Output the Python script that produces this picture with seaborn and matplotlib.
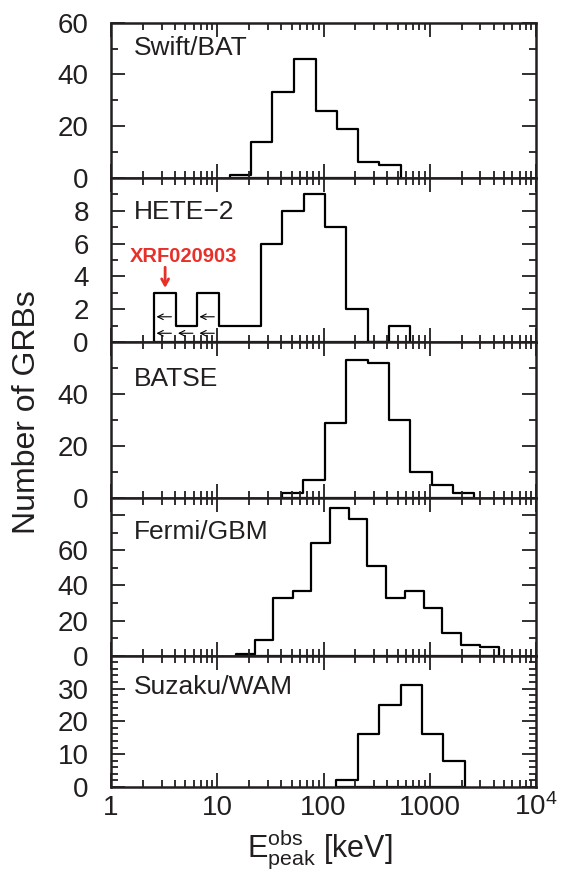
import numpy as np
import pandas as pd
import matplotlib
matplotlib.use("Agg")
import matplotlib.pyplot as plt
import seaborn as sns
from matplotlib.ticker import FixedLocator, LogLocator, NullFormatter, MultipleLocator

# ---------------- data ----------------
panel_names = ["Swift/BAT", "HETE\u22122", "BATSE", "Fermi/GBM", "Suzaku/WAM"]

swift_edges = [13.2, 20.6, 33.1, 53.3, 84.7, 134.5, 211.8, 334, 533]
swift_counts = [1, 14, 33, 46, 26, 19, 6, 5]

hete_edges = [2.56, 4.08, 6.49, 10.4, 16.4, 25.9, 41.1, 65.3, 104, 164, 261, 415, 658]
hete_counts = [3, 1, 3, 1, 1, 6, 8, 9, 7, 2, 0, 1]

batse_edges = [40.3, 64.4, 103, 164, 263, 415, 658, 1045, 1656, 2630]
batse_counts = [2, 7, 29, 53, 52, 30, 10, 5, 2]

fermi_edges = [15.0, 22.6, 33.7, 51.1, 76.0, 115, 172, 259, 391, 586, 879,
               1315, 1972, 2951, 4457]
fermi_counts = [1, 9, 33, 37, 64, 84, 78, 51, 33, 37, 27, 13, 6, 5]

suzaku_edges = [132, 210, 334, 533, 847, 1346, 2148]
suzaku_counts = [2, 16, 25, 31, 16, 8]

y_max = [60, 10, 60, 90, 40]
y_major = [[0, 20, 40, 60], [0, 2, 4, 6, 8], [0, 20, 40], [0, 20, 40, 60, 80], [0, 10, 20, 30]]
y_major_labels = [["0", "20", "40", "60"], ["0", "2", "4", "6", "8"], ["0", "20", "40"],
                  ["0", "20", "40", "60", ""], ["0", "10", "20", "30"]]
y_minor_step = [10, 1, 10, 10, 2]

x_ticks = [1, 10, 100, 1000, 10000]
x_ticklabels = ["1", "10", "100", "1000", r"$\mathregular{10^4}$"]

xrf_label = "XRF020903"
xrf_bin = 0
# (HETE-2 bin index, count level) of the upper-limit arrows
upper_limit_arrows = [(0, 1.55), (2, 1.55), (0, 0.55), (1, 0.55), (2, 0.55)]

# ---------------- style ----------------
plt.rcParams["font.family"] = ["Liberation Sans", "DejaVu Sans"]
plt.rcParams["mathtext.fontset"] = "custom"
plt.rcParams["mathtext.rm"] = "Liberation Sans"
plt.rcParams["mathtext.it"] = "Liberation Sans:italic"
plt.rcParams["axes.linewidth"] = 1.8

red = "#e8302a"

edges_all = [swift_edges, hete_edges, batse_edges, fermi_edges, suzaku_edges]
counts_all = [swift_counts, hete_counts, batse_counts, fermi_counts, suzaku_counts]
name_y = [0.792, 0.749, 0.719, 0.738, 0.708]

fig = plt.figure(figsize=(5.71, 8.72), dpi=100)
gs = fig.add_gridspec(5, 1, height_ratios=[155, 164.6, 155.4, 158, 131.3], hspace=0,
                      left=111 / 571, right=536 / 571, top=1 - 22.7 / 872, bottom=1 - 787 / 872)

axes = []
for i in range(5):
    ax = fig.add_subplot(gs[i])
    axes.append(ax)
    edges = [float(e) for e in edges_all[i]]
    ea = np.array(edges)
    counts = np.array(counts_all[i], dtype=float)
    df = pd.DataFrame({"E": np.sqrt(ea[:-1] * ea[1:]), "N": counts})
    sns.histplot(data=df, x="E", weights="N", bins=edges, element="step", fill=True,
                 facecolor="none", color="black", alpha=1, linewidth=1.6, ax=ax)
    ax.set_xlabel("")
    ax.set_ylabel("")
    ax.set_xscale("log")
    ax.set_xlim(1, 1e4)
    ax.set_ylim(0, y_max[i])

    ax.xaxis.set_major_locator(FixedLocator(x_ticks))
    ax.xaxis.set_minor_locator(LogLocator(base=10, subs=np.arange(2, 10), numticks=50))
    ax.xaxis.set_minor_formatter(NullFormatter())
    ax.set_yticks(y_major[i])
    ax.set_yticklabels(y_major_labels[i])
    ax.yaxis.set_minor_locator(MultipleLocator(y_minor_step[i]))

    ax.tick_params(which="both", direction="in", top=True, right=True, width=1.3,
                   colors="#231f20")
    ax.tick_params(which="major", length=10)
    ax.tick_params(which="minor", length=5)
    ax.tick_params(axis="y", labelsize=20, pad=16)
    for s in ax.spines.values():
        s.set_color("#231f20")

    ax.text(0.054, name_y[i], panel_names[i], transform=ax.transAxes, fontsize=19,
            va="baseline", ha="left", color="#231f20")

    if i < 4:
        ax.tick_params(axis="x", labelbottom=False)
    else:
        ax.set_xticklabels(x_ticklabels)
        ax.tick_params(axis="x", labelsize=20, pad=20)
        for lab in ax.get_xticklabels():
            lab.set_verticalalignment("baseline")

# HETE-2 annotations
ax = axes[1]
he = np.array(hete_edges, dtype=float)
for b, lvl in upper_limit_arrows:
    left = he[b]
    ax.annotate("", xy=(left * 10 ** 0.02, lvl), xytext=(left * 10 ** 0.16, lvl),
                arrowprops=dict(arrowstyle="->,head_length=0.4,head_width=0.2",
                                lw=0.8, color="black", shrinkA=0, shrinkB=0))
xc = np.sqrt(he[xrf_bin] * he[xrf_bin + 1])
ax.annotate("", xy=(xc, 3.3), xytext=(xc, 4.56),
            arrowprops=dict(arrowstyle="->,head_length=0.45,head_width=0.25",
                            lw=2.0, color=red, shrinkA=0, shrinkB=0))
ax.text(4.81, 4.9, xrf_label, color=red, fontweight="bold", fontsize=14.5,
        ha="center", va="baseline",
        family=["Liberation Sans Narrow", "Liberation Sans"])

fig.text(27 / 571, 1 - 412 / 872, "Number of GRBs", rotation=90, fontsize=23,
         ha="center", va="center", color="#231f20")
fig.text(320 / 571, 1 - 856 / 872, r"$\mathregular{E_{peak}^{obs}}$ [keV]", fontsize=22,
         ha="center", va="baseline", color="#231f20")

fig.savefig("out.png", dpi=100)
